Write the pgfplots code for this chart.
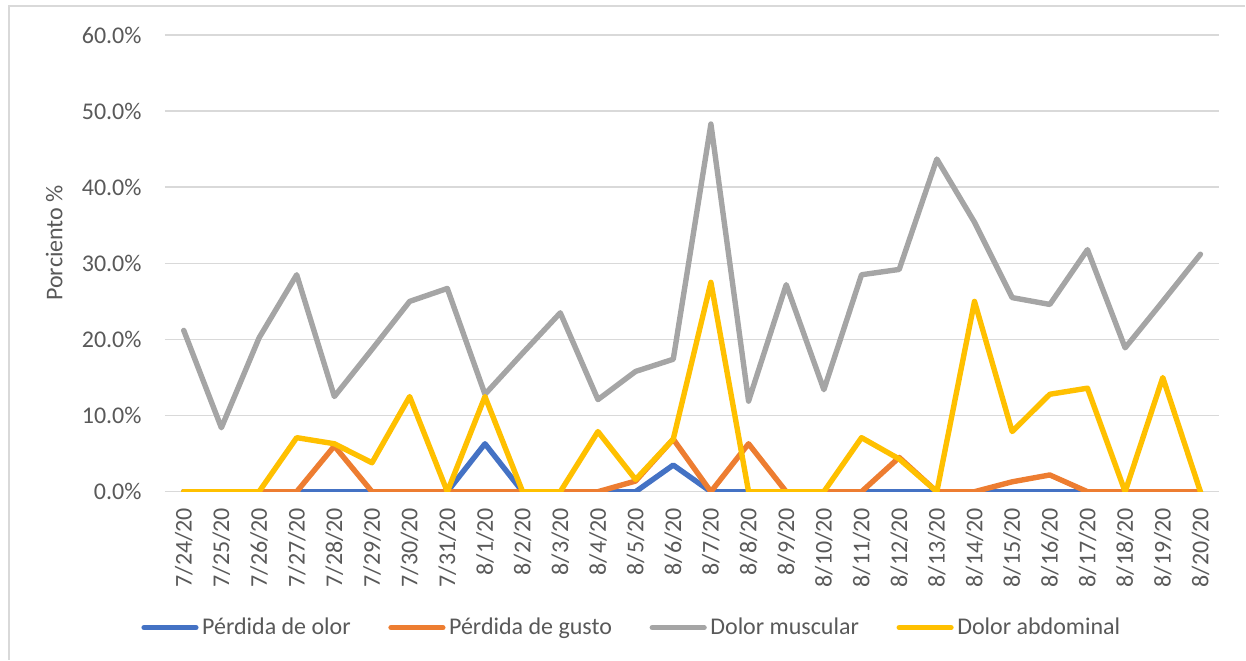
\documentclass[border=0pt]{standalone}
\usepackage{fontspec}
\setmainfont{Carlito}
\usepackage{pgfplots}
\pgfplotsset{compat=1.18}
\usepackage{pgfplotstable}

\definecolor{cOlor}{HTML}{4472C4}
\definecolor{cGusto}{HTML}{ED7D31}
\definecolor{cMusc}{HTML}{A5A5A5}
\definecolor{cAbd}{HTML}{FFC000}
\definecolor{cText}{HTML}{595959}
\definecolor{cGrid}{HTML}{D9D9D9}

% x = day index (7/24/20 ... 8/20/20), values in percent
\pgfplotstableread{
x olor gusto musc abd
0  0   0    21.2 0
1  0   0    8.4  0
2  0   0    20.2 0
3  0   0    28.5 7.1
4  0   6.0  12.5 6.3
5  0   0    18.7 3.8
6  0   0    25.0 12.5
7  0   0    26.7 0
8  6.3 0    12.8 12.5
9  0   0    18.2 0
10 0   0    23.5 0
11 0   0    12.1 7.9
12 0   1.4  15.8 1.6
13 3.5 6.9  17.4 6.9
14 0   0    48.3 27.5
15 0   6.3  11.9 0
16 0   0    27.2 0
17 0   0    13.4 0
18 0   0    28.5 7.1
19 0   4.5  29.2 4.3
20 0   0    43.7 0
21 0   0    35.4 25.0
22 0   1.3  25.5 7.9
23 0   2.2  24.6 12.8
24 0   0    31.8 13.6
25 0   0    18.9 0
26 0   0    25.0 15.0
27 0   0    31.2 0
}\datatable

\begin{document}
\fontsize{12}{14}\selectfont
\begin{tikzpicture}
\path (-82.5pt,-84pt) rectangle (540.5pt,246pt);
\draw[color=cGrid, line width=0.75pt] (-78pt,-84pt) -- (-78pt,243pt) -- (540.5pt,243pt);
\begin{axis}[
    at={(0,0)}, anchor=south west,
    width=527.5pt, height=228.5pt, scale only axis,
    xmin=-0.5, xmax=27.5, ymin=0, ymax=60,
    axis lines=left,
    axis line style={draw=none},
    tick style={draw=none},
    major tick length=0pt,
    ymajorgrids,
    grid style={color=cGrid, line width=0.75pt},
    ytick={0,10,20,30,40,50,60},
    yticklabels={0.0\%,10.0\%,20.0\%,30.0\%,40.0\%,50.0\%,60.0\%},
    yticklabel style={text=cText, inner sep=0pt, font=\fontsize{12}{14}\selectfont},
    yticklabel shift=11.5pt,
    xtick={0,...,27},
    xticklabels={7/24/20,7/25/20,7/26/20,7/27/20,7/28/20,7/29/20,7/30/20,7/31/20,
        8/1/20,8/2/20,8/3/20,8/4/20,8/5/20,8/6/20,8/7/20,8/8/20,8/9/20,8/10/20,
        8/11/20,8/12/20,8/13/20,8/14/20,8/15/20,8/16/20,8/17/20,8/18/20,8/19/20,8/20/20},
    xticklabel style={rotate=90, anchor=east, inner sep=0pt, text=cText, font=\fontsize{12}{14}\selectfont},
    xticklabel shift=8pt,
    ylabel={Porciento \%},
    ylabel style={at={(axis description cs:-0.0967,0.545)}, anchor=south, rotate=0, text=cText, inner sep=0pt, font=\fontsize{12}{14}\selectfont},
    legend columns=4,
    legend style={at={(0.4436,-0.2976)}, anchor=center, draw=none, fill=none,
        text=cText, font=\fontsize{12}{14}\selectfont,
        /tikz/every even column/.append style={column sep=17pt},
        inner sep=0pt, nodes={inner sep=1.8pt}},
    legend image code/.code={\draw[#1, line width=2.6pt, line cap=round] (0pt,0pt) -- (26pt,0pt);},
    every axis plot/.append style={line width=2.7pt, line join=round, line cap=round, mark=none},
]
\addplot[color=cOlor] table[x=x, y=olor] {\datatable};
\addlegendentry{Pérdida de olor}
\addplot[color=cGusto] table[x=x, y=gusto] {\datatable};
\addlegendentry{Pérdida de gusto}
\addplot[color=cMusc] table[x=x, y=musc] {\datatable};
\addlegendentry{Dolor muscular}
\addplot[color=cAbd] table[x=x, y=abd] {\datatable};
\addlegendentry{Dolor abdominal}
\end{axis}
\end{tikzpicture}
\end{document}
